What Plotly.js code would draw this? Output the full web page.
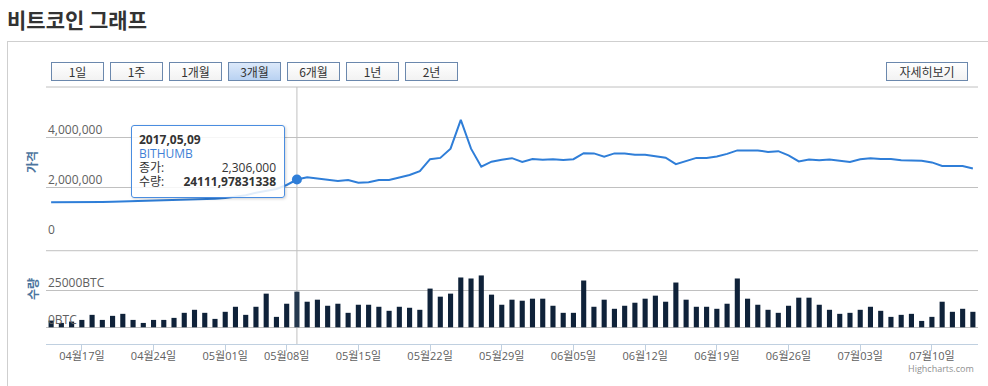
<!DOCTYPE html>
<html>
<head>
<meta charset="utf-8">
<script src="https://cdn.plot.ly/plotly-3.0.1.min.js"></script>
<style>
  html, body { margin: 0; padding: 0; background: #ffffff; }
  #wrap { position: relative; width: 988px; height: 386px; overflow: hidden; font-family: "Open Sans", "Noto Sans CJK KR", sans-serif; }
  #title { position: absolute; left: 7px; top: 7px; font-family: "Noto Sans CJK KR", sans-serif; font-weight: bold; font-size: 21px; line-height: 24px; color: #333333; white-space: nowrap; }
  #box { position: absolute; left: 7px; top: 41px; width: 990px; height: 400px; border-top: 1px solid #cfcfcf; border-left: 1px solid #cfcfcf; box-sizing: border-box; }
  #chart { position: absolute; left: 0; top: 0; width: 988px; height: 386px; }
  .btn { position: absolute; top: 62px; height: 19px; box-sizing: border-box; border: 1px solid #6b88ad; background: linear-gradient(#ffffff, #f2f2f2); font-family: "Noto Sans CJK KR", sans-serif; font-size: 12px; line-height: 17px; text-align: center; color: #333333; z-index: 5; }
  .btn.active { background: linear-gradient(#dce9fa, #b9d2f2); }
  #tip { position: absolute; left: 131px; top: 125px; width: 154px; height: 73px; box-sizing: border-box; border: 1px solid #4a8de0; border-radius: 3px; background: rgba(255,255,255,0.86); box-shadow: 1px 1px 3px rgba(0,0,0,0.18); padding: 7px 8px 0 7px; font-family: "Open Sans", "Noto Sans CJK KR", sans-serif; font-size: 12px; line-height: 14px; color: #333333; z-index: 6; }
  #tip .row { position: relative; height: 14px; white-space: nowrap; }
  #tip .row .r { position: absolute; right: 0; top: 0; }
  #tip .b { font-weight: bold; }
  #tip .s { color: #3f7fd6; }
</style>
</head>
<body>
<div id="wrap">
  <div id="box"></div>
  <div id="title">비트코인 그래프</div>
  <div id="chart"></div>
  <div id="tip"></div>
</div>
<script>
// ---------- data ----------
const dates = [
  "2017-04-14","2017-04-15","2017-04-16","2017-04-17","2017-04-18","2017-04-19","2017-04-20","2017-04-21",
  "2017-04-22","2017-04-23","2017-04-24","2017-04-25","2017-04-26","2017-04-27","2017-04-28","2017-04-29",
  "2017-04-30","2017-05-01","2017-05-02","2017-05-03","2017-05-04","2017-05-06","2017-05-07","2017-05-08",
  "2017-05-09","2017-05-10","2017-05-11","2017-05-12","2017-05-13","2017-05-14","2017-05-15","2017-05-16",
  "2017-05-17","2017-05-18","2017-05-19","2017-05-20","2017-05-21","2017-05-22","2017-05-23","2017-05-24",
  "2017-05-25","2017-05-26","2017-05-27","2017-05-28","2017-05-29","2017-05-30","2017-05-31","2017-06-01",
  "2017-06-02","2017-06-03","2017-06-04","2017-06-05","2017-06-06","2017-06-07","2017-06-08","2017-06-09",
  "2017-06-10","2017-06-11","2017-06-12","2017-06-13","2017-06-14","2017-06-15","2017-06-16","2017-06-17",
  "2017-06-18","2017-06-19","2017-06-20","2017-06-21","2017-06-22","2017-06-23","2017-06-24","2017-06-25",
  "2017-06-26","2017-06-27","2017-06-28","2017-06-29","2017-06-30","2017-07-01","2017-07-02","2017-07-03",
  "2017-07-04","2017-07-05","2017-07-06","2017-07-07","2017-07-08","2017-07-09","2017-07-10","2017-07-11",
  "2017-07-12","2017-07-13","2017-07-14"
];

const closePrices = [
  1400000,1400000,1390000,1400000,1410000,1410000,1420000,1430000,
  1430000,1440000,1450000,1460000,1470000,1480000,1500000,1520000,
  1540000,1570000,1610000,1680000,1780000,1870000,1930000,2090000,
  2306000,2400000,2350000,2290000,2250000,2290000,2180000,2200000,
  2290000,2290000,2400000,2490000,2640000,3120000,3170000,3540000,
  4690000,3540000,2820000,3020000,3100000,3160000,3010000,3130000,
  3100000,3120000,3090000,3120000,3360000,3350000,3220000,3350000,
  3350000,3300000,3300000,3240000,3180000,2920000,3050000,3170000,
  3170000,3230000,3330000,3470000,3470000,3470000,3410000,3440000,
  3270000,3030000,3110000,3080000,3110000,3060000,3010000,3120000,
  3160000,3130000,3130000,3080000,3080000,3060000,2990000,2850000,
  2850000,2850000,2750000
];

const volumes = [
  4550,2960,3870,5000,8420,5000,7740,9100,
  5000,2960,5000,5000,6370,9780,11830,9780,
  5690,10470,13880,8420,13880,22750,7050,15930,
  24111.97831338,17290,18660,14560,15930,9780,15240,15240,
  13880,11150,13880,13200,11830,26160,20700,22750,
  33670,32990,35040,22070,15240,18660,17970,19340,
  19340,14560,9780,9780,31620,13880,18660,12510,
  14560,16610,19340,21390,17290,30260,18660,13880,
  13880,12510,15930,32990,19340,15240,11830,9780,
  14560,20020,20020,15240,11830,9100,9780,11830,
  13880,11150,7050,8420,9100,4320,7050,17290,
  10470,12510,10470
];

const tickDates = ["2017-04-17","2017-04-24","2017-05-01","2017-05-08","2017-05-15","2017-05-22","2017-05-29",
                   "2017-06-05","2017-06-12","2017-06-19","2017-06-26","2017-07-03","2017-07-10"];
const tickLabels = ["04월17일","04월24일","05월01일","05월08일","05월15일","05월22일","05월29일",
                    "06월05일","06월12일","06월19일","06월26일","07월03일","07월10일"];

const priceTicks = [0, 2000000, 4000000, 6000000];
const priceTickLabels = ["0", "2,000,000", "4,000,000", ""];
const volumeTicks = [0, 25000];
const volumeTickLabels = ["0BTC", "25000BTC"];

const rangeButtons = ["1일", "1주", "1개월", "3개월", "6개월", "1년", "2년"];
const activeButton = "3개월";
const detailButton = "자세히보기";
const seriesName = "BITHUMB";
const hoverIndex = 24;

// ---------- HTML parts (range buttons, tooltip) ----------
const wrap = document.getElementById('wrap');
rangeButtons.forEach((label, k) => {
  const b = document.createElement('div');
  b.className = 'btn' + (label === activeButton ? ' active' : '');
  b.style.left = (51 + k * 59) + 'px';
  b.style.width = '53px';
  b.textContent = label;
  wrap.appendChild(b);
});
const db = document.createElement('div');
db.className = 'btn';
db.style.left = '886px';
db.style.width = '82px';
db.textContent = detailButton;
wrap.appendChild(db);

const tip = document.getElementById('tip');
const hd = dates[hoverIndex].split('-').join(',');
const hp = closePrices[hoverIndex].toLocaleString('en-US');
const hv = String(volumes[hoverIndex]).replace('.', ',');
tip.innerHTML =
  '<div class="row b">' + hd + '</div>' +
  '<div class="row s">' + seriesName + '</div>' +
  '<div class="row"><span>종가:</span><span class="r">' + hp + '</span></div>' +
  '<div class="row"><span>수량:</span><span class="r b">' + hv + '</span></div>';

// ---------- Plotly chart ----------
const barColors = volumes.map((v, i) => i === hoverIndex ? '#25394f' : '#0f2239');
const fam = '"Open Sans", "Noto Sans CJK KR", sans-serif';
const tickFont = { family: fam, size: 11, color: '#606060' };
const yTickFont = { family: fam, size: 12, color: '#606060' };

const traces = [
  {
    type: 'bar', x: dates, y: volumes, xaxis: 'x', yaxis: 'y2',
    marker: { color: barColors, line: { width: 0 } }, width: 0.5,
    hoverinfo: 'skip', showlegend: false
  },
  {
    type: 'scatter', mode: 'lines', x: dates, y: closePrices, xaxis: 'x', yaxis: 'y',
    line: { color: '#2f7ed8', width: 2 }, hoverinfo: 'skip', showlegend: false
  },
  {
    type: 'scatter', mode: 'markers', x: [dates[hoverIndex]], y: [closePrices[hoverIndex]],
    xaxis: 'x', yaxis: 'y',
    marker: { color: '#2f7ed8', size: 10, line: { width: 0 } }, hoverinfo: 'skip', showlegend: false
  }
];

// y tick labels drawn inside the plot, left-aligned just above each grid line
const yLabelAnns = [];
priceTicks.forEach((v, k) => {
  if (!priceTickLabels[k]) return;
  yLabelAnns.push({ text: priceTickLabels[k], xref: 'paper', yref: 'y', x: 0, y: v, xshift: 0, yshift: -3,
    xanchor: 'left', yanchor: 'bottom', showarrow: false, font: yTickFont });
});
volumeTicks.forEach((v, k) => {
  yLabelAnns.push({ text: volumeTickLabels[k], xref: 'paper', yref: 'y2', x: 0, y: v, xshift: 0, yshift: -3,
    xanchor: 'left', yanchor: 'bottom', showarrow: false, font: yTickFont });
});

const layout = {
  width: 988, height: 386,
  margin: { l: 46, r: 10, t: 87, b: 42 },
  paper_bgcolor: 'rgba(0,0,0,0)', plot_bgcolor: 'rgba(0,0,0,0)',
  font: tickFont,
  showlegend: false,
  hovermode: false,
  xaxis: {
    type: 'category', anchor: 'y2', range: [-0.5, 90.5],
    tickmode: 'array', tickvals: tickDates, ticktext: tickLabels,
    showgrid: false, zeroline: false,
    showline: true, linecolor: '#C0D0E0', linewidth: 1,
    ticks: 'outside', ticklen: 6, tickcolor: '#C0D0E0',
    ticklabelstandoff: -4,
    tickfont: tickFont,
    fixedrange: true
  },
  yaxis: {
    domain: [0.415, 1], range: [0, 6000000],
    tickmode: 'array', tickvals: priceTicks, showticklabels: false,
    gridcolor: '#C0C0C0', gridwidth: 1, zeroline: false, showline: false,
    fixedrange: true
  },
  yaxis2: {
    domain: [0, 0.363], range: [-11280, 51760],
    tickmode: 'array', tickvals: volumeTicks, showticklabels: false,
    gridcolor: '#C0C0C0', gridwidth: 1, zeroline: false, showline: false,
    fixedrange: true
  },
  shapes: [
    { type: 'line', xref: 'paper', yref: 'y2 domain', x0: 0, x1: 1, y0: 1, y1: 1,
      line: { color: '#C0C0C0', width: 1 }, layer: 'below' },
    { type: 'line', xref: 'paper', yref: 'y domain', x0: 0, x1: 1, y0: 1, y1: 1,
      line: { color: '#C0C0C0', width: 1 }, layer: 'below' },
    { type: 'line', xref: 'x', yref: 'paper', x0: dates[hoverIndex], x1: dates[hoverIndex], y0: 0, y1: 1,
      line: { color: '#C0C0C0', width: 1 }, layer: 'below' }
  ],
  annotations: yLabelAnns.concat([
    { text: '<b>가격</b>', xref: 'paper', yref: 'paper', x: 0, y: 0.708, xshift: -15,
      showarrow: false, textangle: -90, xanchor: 'center', yanchor: 'middle',
      font: { family: '"Noto Sans CJK KR", sans-serif', size: 12, color: '#4d759e' } },
    { text: '<b>수량</b>', xref: 'paper', yref: 'paper', x: 0, y: 0.214, xshift: -14,
      showarrow: false, textangle: -90, xanchor: 'center', yanchor: 'middle',
      font: { family: '"Noto Sans CJK KR", sans-serif', size: 12, color: '#4d759e' } },
    { text: 'Highcharts.com', xref: 'paper', yref: 'paper', x: 1, y: -0.096, xshift: -2,
      showarrow: false, xanchor: 'right', yanchor: 'middle',
      font: { family: '"Open Sans", sans-serif', size: 9, color: '#909090' } }
  ])
};

Plotly.newPlot('chart', traces, layout, { staticPlot: true, displayModeBar: false });
</script>
</body>
</html>
